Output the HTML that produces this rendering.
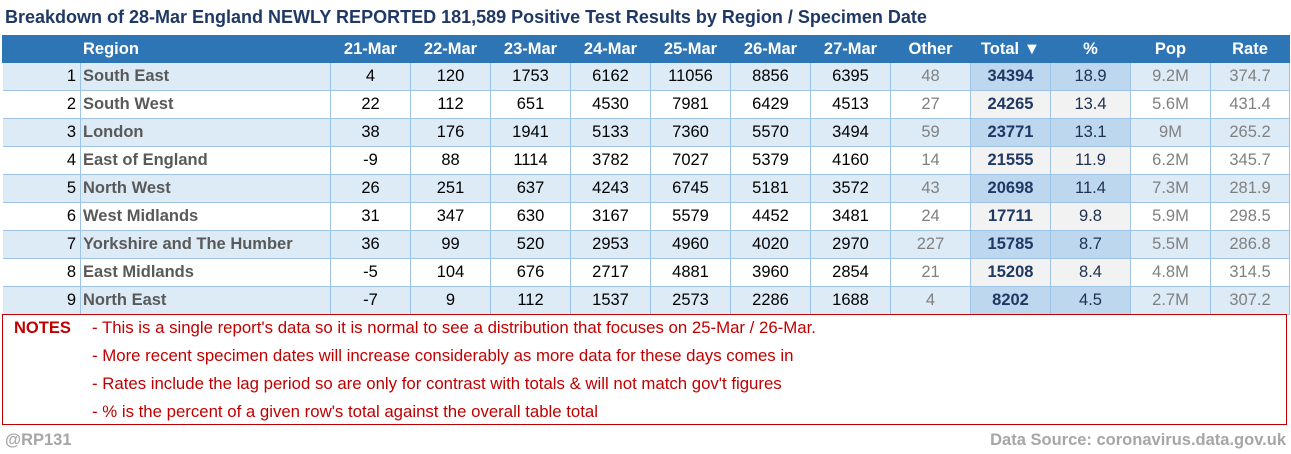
<!DOCTYPE html>
<html><head><meta charset="utf-8">
<style>
body{margin:0;width:1291px;height:454px;background:#fff;font-family:"Liberation Sans",sans-serif;position:relative;overflow:hidden}
#title{position:absolute;left:5px;top:7px;font-size:18px;font-weight:bold;color:#1f3864;white-space:nowrap}
table{position:absolute;left:2px;top:35px;border-collapse:collapse;table-layout:fixed;width:1287px}
td,th{height:27px;padding:0;font-size:16.5px;text-align:center;border:1px solid #9dc3e6;white-space:nowrap;overflow:hidden;color:#000}
th{background:#2e75b6;color:#fff;font-weight:bold;border-color:#2e75b6;height:26px}
tr.odd td{background:#ddebf7}
tr.even td{background:#fff}
td.num{text-align:right;padding-right:4px;border-left:none}
td.reg{text-align:left;padding-left:2px;font-weight:bold;color:#595959}
td.oth,td.pop,td.rate{color:#808080}
td.tot{font-weight:bold;color:#1f3864}
tr.odd td.tot,tr.odd td.pct{background:#bdd7ee}
tr.even td.tot,tr.even td.pct{background:#f2f2f2}
td.pct{color:#1f2f50}
#notes{position:absolute;left:2px;top:314px;width:1285px;height:111px;border:1px solid #c00000;box-sizing:border-box;color:#c00000}
.nl{position:absolute;left:89px;font-size:16.8px;white-space:nowrap}
#nt{position:absolute;left:11px;top:4px;font-weight:bold;font-size:16.5px}
.foot{position:absolute;top:431px;font-size:16.5px;font-weight:bold;color:#a6a6a6}
</style></head><body>
<div id="title">Breakdown of 28-Mar England NEWLY REPORTED 181,589 Positive Test Results by Region / Specimen Date</div>
<table id="tbl">
<colgroup><col style="width:78px"><col style="width:250px"><col style="width:80px"><col style="width:80px"><col style="width:80px"><col style="width:80px"><col style="width:80px"><col style="width:80px"><col style="width:80px"><col style="width:80px"><col style="width:80px"><col style="width:80px"><col style="width:80px"><col style="width:79px"></colgroup>
<thead><tr>
<th></th><th style="text-align:left;padding-left:2px">Region</th><th>21-Mar</th><th>22-Mar</th><th>23-Mar</th><th>24-Mar</th><th>25-Mar</th><th>26-Mar</th><th>27-Mar</th><th>Other</th><th>Total ▼</th><th>%</th><th>Pop</th><th>Rate</th>
</tr></thead>
<tbody id="tb"></tbody></table>
<div id="notes">
<div id="nt">NOTES</div>
<div class="nl" style="top:3px">- This is a single report's data so it is normal to see a distribution that focuses on 25-Mar / 26-Mar.</div>
<div class="nl" style="top:31px">- More recent specimen dates will increase considerably as more data for these days comes in</div>
<div class="nl" style="top:59px">- Rates include the lag period so are only for contrast with totals &amp; will not match gov't figures</div>
<div class="nl" style="top:87px">- % is the percent of a given row's total against the overall table total</div>
</div>
<div class="foot" style="left:5px">@RP131</div>
<div class="foot" style="right:5px">Data Source: coronavirus.data.gov.uk</div>
<script>
const regions=["South East","South West","London","East of England","North West","West Midlands","Yorkshire and The Humber","East Midlands","North East"];
const d21=[4,22,38,-9,26,31,36,-5,-7];
const d22=[120,112,176,88,251,347,99,104,9];
const d23=[1753,651,1941,1114,637,630,520,676,112];
const d24=[6162,4530,5133,3782,4243,3167,2953,2717,1537];
const d25=[11056,7981,7360,7027,6745,5579,4960,4881,2573];
const d26=[8856,6429,5570,5379,5181,4452,4020,3960,2286];
const d27=[6395,4513,3494,4160,3572,3481,2970,2854,1688];
const other=[48,27,59,14,43,24,227,21,4];
const totals=[34394,24265,23771,21555,20698,17711,15785,15208,8202];
const pct=["18.9","13.4","13.1","11.9","11.4","9.8","8.7","8.4","4.5"];
const pop=["9.2M","5.6M","9M","6.2M","7.3M","5.9M","5.5M","4.8M","2.7M"];
const rate=["374.7","431.4","265.2","345.7","281.9","298.5","286.8","314.5","307.2"];
const tb=document.getElementById('tb');
regions.forEach((r,i)=>{
  const tr=document.createElement('tr');
  tr.className=i%2?'even':'odd';
  
  
  const cells=[[i+1,'num'],[r,'reg'],[d21[i],''],[d22[i],''],[d23[i],''],[d24[i],''],[d25[i],''],[d26[i],''],[d27[i],''],[other[i],'oth'],[totals[i],'tot'],[pct[i],'pct'],[pop[i],'pop'],[rate[i],'rate']];
  cells.forEach(c=>{const td=document.createElement('td');td.textContent=c[0];if(c[1])td.className=c[1];
    
    
    tr.appendChild(td);});
  tb.appendChild(tr);
});
</script>
</body></html>
